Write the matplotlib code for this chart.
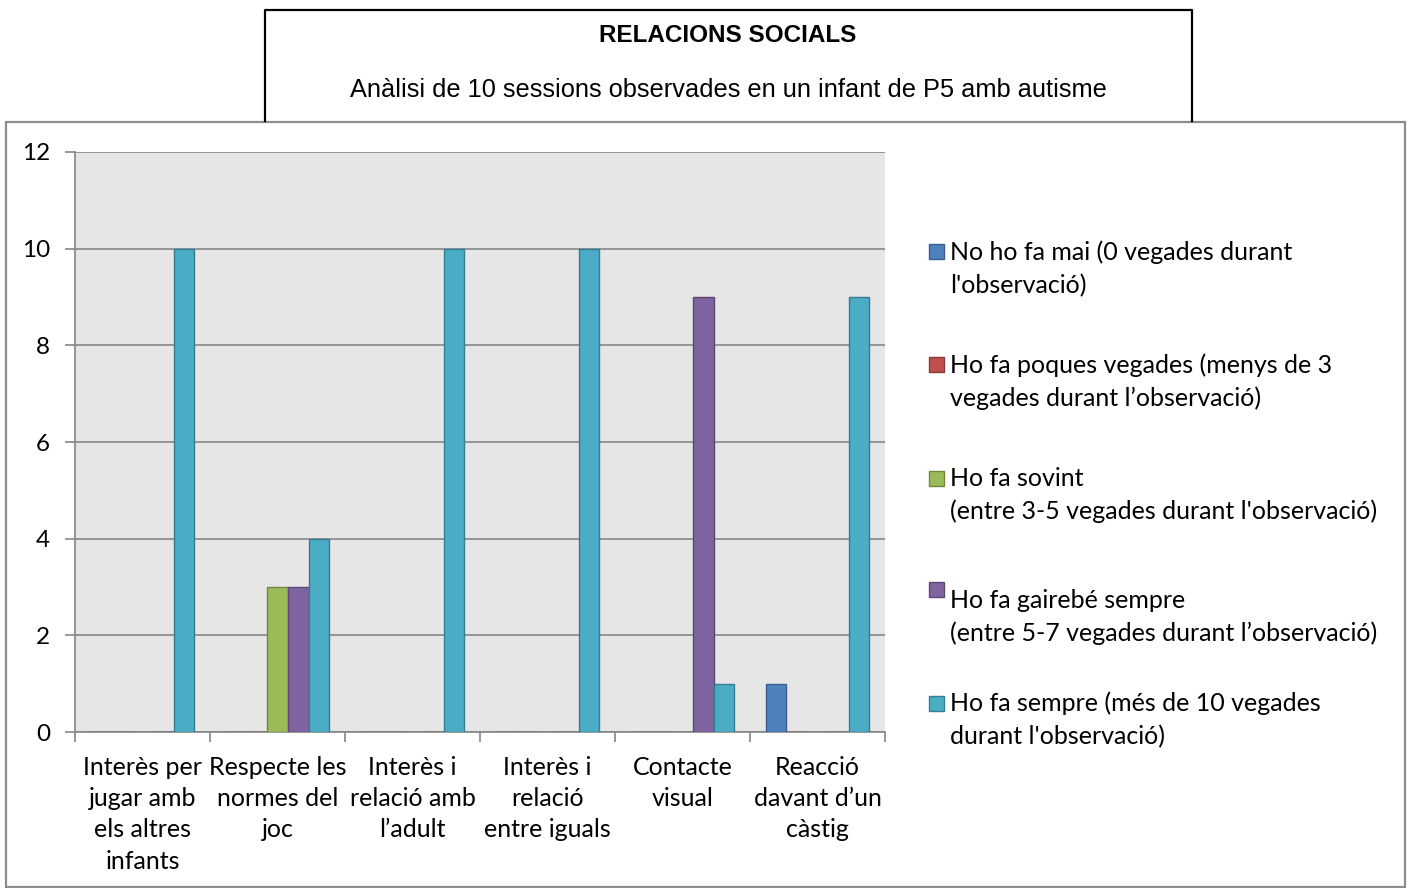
import matplotlib
matplotlib.use("Agg")
import matplotlib.pyplot as plt
from matplotlib.patches import Rectangle
import numpy as np

# ---- data ----
categories = [
    "Interès per\njugar amb\nels altres\ninfants",
    "Respecte les\nnormes del\njoc",
    "Interès i\nrelació amb\nl\u2019adult",
    "Interès i\nrelació\nentre iguals",
    "Contacte\nvisual",
    "Reacció\ndavant d\u2019un\ncàstig",
]
series_names = [
    "No ho fa mai (0 vegades durant\nl'observació)",
    "Ho fa poques vegades (menys de 3\nvegades durant l\u2019observació)",
    "Ho fa sovint\n(entre 3-5 vegades durant l'observació)",
    "Ho fa gairebé sempre\n(entre 5-7 vegades durant l\u2019observació)",
    "Ho fa sempre (més de 10 vegades\ndurant l'observació)",
]
no_ho_fa_mai = [0, 0, 0, 0, 0, 1]
poques_vegades = [0, 0, 0, 0, 0, 0]
sovint = [0, 3, 0, 0, 0, 0]
gairebe_sempre = [0, 3, 0, 0, 9, 0]
sempre = [10, 4, 10, 10, 1, 9]
series_values = [no_ho_fa_mai, poques_vegades, sovint, gairebe_sempre, sempre]
yticks = [0, 2, 4, 6, 8, 10, 12]

title = "RELACIONS SOCIALS"
subtitle = "Anàlisi de 10 sessions observades en un infant de P5 amb autisme"

# ---- style ----
colors = ["#4F81BD", "#C0504D", "#9BBB59", "#8064A2", "#4BACC6"]
edges = ["#385D8A", "#8C3836", "#71893F", "#5C4776", "#357D91"]
FONT = "Lato"

W, H = 1409, 888
fig = plt.figure(figsize=(W / 100, H / 100), dpi=100)
fig.patch.set_facecolor("white")

def fx(px):
    return px / W

def fy(py):
    return 1 - py / H

# outer chart border
fig.add_artist(Rectangle((fx(6), fy(887)), fx(1405) - fx(6), fy(122) - fy(887),
                         transform=fig.transFigure, fill=False,
                         edgecolor="#8C8C8C", lw=1.6, zorder=1))
# title box (no bottom line, it sits on the chart border)
fig.add_artist(plt.Line2D([fx(265), fx(265), fx(1192), fx(1192)],
                          [fy(121), fy(10), fy(10), fy(121)],
                          transform=fig.transFigure, color="black", lw=1.6, zorder=2))
fig.text(fx(728), fy(36), title, ha="center", va="center",
         family="Liberation Sans", fontweight="bold", fontsize=17.5)
fig.text(fx(728), fy(90), subtitle, ha="center", va="center",
         family="Liberation Sans", fontsize=18.3)

# axes
left, right, top, bottom = 75, 885, 152, 732
ax = fig.add_axes([fx(left), fy(bottom), fx(right) - fx(left), fy(top) - fy(bottom)])
ax.set_facecolor("#E6E6E6")

n_cat = len(categories)
n_ser = len(series_values)
x = np.arange(n_cat)
bar_w = 1.0 / (n_ser + 1.5)
for i, (vals, c, e) in enumerate(zip(series_values, colors, edges)):
    ax.bar(x + (i - (n_ser - 1) / 2) * bar_w, vals, width=bar_w, color=c,
           edgecolor=e, linewidth=1.0, zorder=3)

ax.set_xlim(-0.5, n_cat - 0.5)
ax.set_ylim(0, 12)
ax.set_yticks(yticks)
ax.set_yticklabels([str(v) for v in yticks], family=FONT, fontsize=17.5)
ax.yaxis.grid(True, color="#868686", lw=1.2, zorder=1)
ax.set_axisbelow(True)

ax.set_xticks(x)
ax.set_xticklabels(categories, family=FONT, fontsize=18, linespacing=1.44)
ax.set_xticks(np.arange(n_cat + 1) - 0.5, minor=True)
ax.tick_params(axis="x", which="major", length=0, pad=17)
ax.tick_params(axis="x", which="minor", length=7, color="#868686", width=1.2, direction="out")
ax.tick_params(axis="y", length=7, color="#868686", width=1.2, pad=11)

for s in ["top", "right"]:
    ax.spines[s].set_visible(False)
for s in ["left", "bottom"]:
    ax.spines[s].set_color("#868686")
    ax.spines[s].set_linewidth(1.2)

# legend (manual, to match layout): first-line centres and square centres in px
text_y = [252, 365, 478, 600, 703]
square_y = [251, 365, 478, 589, 703]
for name, c, e, ty, sy in zip(series_names, colors, edges, text_y, square_y):
    fig.add_artist(Rectangle((fx(929), fy(sy + 7.5)), fx(15), 15 / H,
                             transform=fig.transFigure, facecolor=c,
                             edgecolor=e, lw=1.0))
    fig.text(fx(950), fy(ty - 11.5), name, ha="left", va="top",
             family=FONT, fontsize=18, linespacing=1.5)

fig.savefig("out.png", dpi=100)
